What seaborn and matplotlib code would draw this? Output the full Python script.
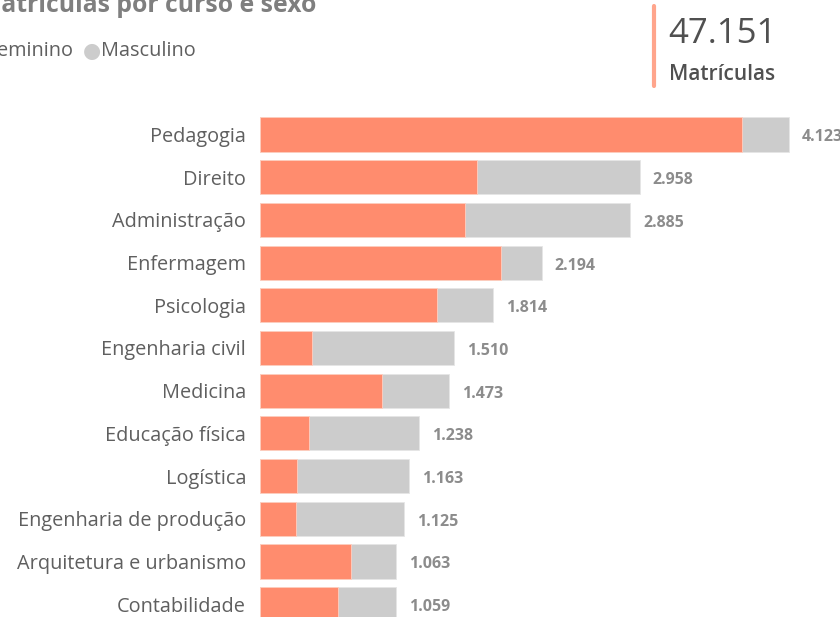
import numpy as np
import pandas as pd
import matplotlib
matplotlib.use("Agg")
import matplotlib.pyplot as plt
import seaborn as sns

# --- data ---
cursos = ["Pedagogia", "Direito", "Administração", "Enfermagem", "Psicologia",
          "Engenharia civil", "Medicina", "Educação física", "Logística",
          "Engenharia de produção", "Arquitetura e urbanismo", "Contabilidade"]
totais = [4123, 2958, 2885, 2194, 1814, 1510, 1473, 1238, 1163, 1125, 1063, 1059]
feminino = [3760, 1690, 1597, 1877, 1376, 403, 953, 384, 291, 280, 709, 605]
total_matriculas = "47.151"

COR_FEM = "#FF8C6E"
COR_MASC = "#CCCCCC"
FONT = "Open Sans"

df = pd.DataFrame({"curso": cursos, "total": totais, "feminino": feminino})

sns.set_theme(style="white")
plt.rcParams["font.family"] = [FONT, "DejaVu Sans"]

W, H = 840, 617
fig = plt.figure(figsize=(W / 100, H / 100), dpi=100)

# axes geometry in pixels: bars start at x=260, row pitch ~42.7 px, first row centre y~134.5
x0, x1 = 260, 840
px_per_unit = 529 / 4123
pitch = 42.7
top_px = 134.5 - pitch / 2
ax = fig.add_axes([x0 / W, 0, (x1 - x0) / W, 1 - top_px / H])

sns.barplot(data=df, x="total", y="curso", color=COR_MASC, width=0.8,
            saturation=1, edgecolor="#e6e6e6", linewidth=0.6, ax=ax)
sns.barplot(data=df, x="feminino", y="curso", color=COR_FEM, width=0.8,
            saturation=1, edgecolor="#ffd0c2", linewidth=0.6, ax=ax)

ax.set_xlim(0, (x1 - x0) / px_per_unit)
ax.set_ylim(-0.5 + (H - top_px) / pitch, -0.5)
ax.set_xlabel("")
ax.set_ylabel("")
ax.set_xticks([])
sns.despine(ax=ax, left=True, bottom=True, top=True, right=True)
ax.tick_params(axis="y", length=0, pad=10)
for lbl in ax.get_yticklabels():
    lbl.set_fontsize(14.3)
    lbl.set_color("#5f5f5f")

for i, v in enumerate(totais):
    txt = f"{v:,}".replace(",", ".")
    ax.text(v + 13 / px_per_unit, i + 0.07, txt, ha="left", va="center",
            fontsize=11.5, fontweight="bold", color="#8c8c8c", clip_on=False)

# title (cut at the left edge like the reference)
fig.text(316 / W, 1 - 6 / H, "Matrículas por curso e sexo", ha="right",
         va="center", fontsize=17.8, fontweight="bold", color="#7f7f7f")

# legend
fig.text(73 / W, 1 - 51 / H, "●  Feminino", ha="right", va="center",
         fontsize=14.3, color="#5f5f5f")
fig.text(92 / W, 1 - 51.5 / H, "●", ha="center", va="center",
         fontsize=15, color=COR_MASC)
fig.text(101 / W, 1 - 51 / H, "Masculino", ha="left", va="center",
         fontsize=14.3, color="#5f5f5f")

# KPI card
fig.add_artist(plt.Line2D([654 / W, 654 / W], [1 - 6 / H, 1 - 86 / H],
                          color="#FFA58C", lw=3, transform=fig.transFigure))
fig.text(668 / W, 1 - 34 / H, total_matriculas, ha="left", va="center",
         fontsize=25, color="#505050")
fig.text(669 / W, 1 - 74 / H, "Matrículas", ha="left", va="center",
         fontsize=15, fontweight="semibold", color="#505050")

fig.savefig("out.png", dpi=100, facecolor="white")
